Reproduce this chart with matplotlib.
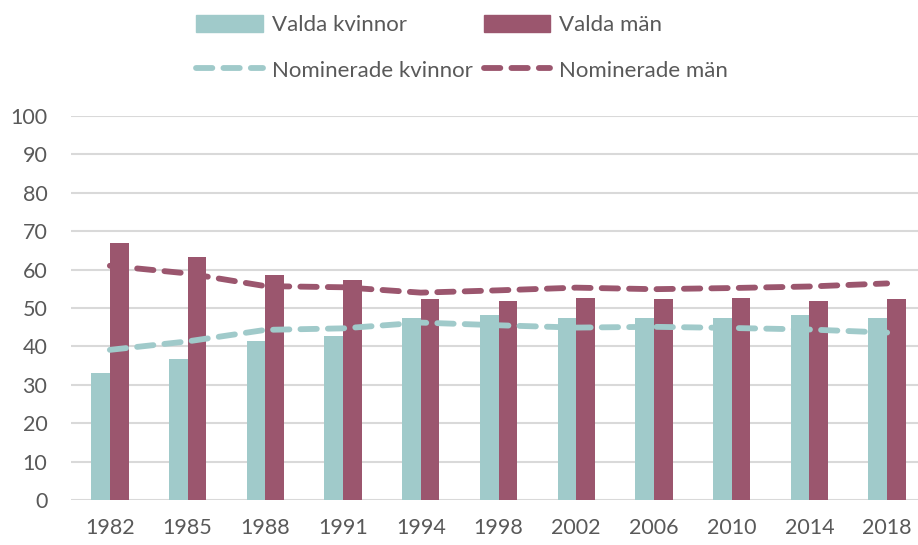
import matplotlib
matplotlib.use("Agg")
import matplotlib.pyplot as plt
import numpy as np
from matplotlib.lines import Line2D
from matplotlib.patches import Patch

years = ["1982", "1985", "1988", "1991", "1994", "1998", "2002", "2006", "2010", "2014", "2018"]
valda_kvinnor = [33.0, 36.6, 41.4, 42.6, 47.5, 48.1, 47.3, 47.5, 47.4, 48.1, 47.5]
valda_man = [67.0, 63.3, 58.5, 57.3, 52.4, 51.8, 52.6, 52.4, 52.5, 51.8, 52.4]
nom_kvinnor = [39.1, 41.3, 44.3, 44.7, 46.2, 45.5, 44.9, 45.1, 44.8, 44.4, 43.6]
nom_man = [61.0, 59.0, 55.7, 55.4, 54.0, 54.6, 55.3, 54.9, 55.2, 55.6, 56.4]
yticks = [0, 10, 20, 30, 40, 50, 60, 70, 80, 90, 100]

TEAL = "#A0CACA"
MAUVE = "#9B566E"
TXT = "#595959"
plt.rcParams['font.family'] = ['Lato', 'DejaVu Sans']

fig = plt.figure(figsize=(9.18, 5.45), dpi=100)
ax = fig.add_axes([71/918, 45/545, 855/918, 384/545])

x = np.arange(len(years))
w = 0.24
ax.bar(x - w/2, valda_kvinnor, w, color=TEAL, zorder=2)
ax.bar(x + w/2, valda_man, w, color=MAUVE, zorder=2)
ax.plot(x, nom_kvinnor, color=TEAL, lw=4.2, dashes=(2.8, 1.9), dash_capstyle='round', zorder=3)
ax.plot(x, nom_man, color=MAUVE, lw=4.2, dashes=(2.8, 1.9), dash_capstyle='round', zorder=3)

ax.set_xlim(-0.5, len(years) - 0.5)
ax.set_ylim(0, 100)
ax.set_yticks(yticks)
ax.set_xticks(x)
ax.set_xticklabels(years)
ax.grid(axis='y', color='#D9D9D9', lw=1.5, zorder=0)
ax.set_axisbelow(True)
for s in ax.spines.values():
    s.set_visible(False)
ax.tick_params(length=0, labelsize=15.5, colors=TXT)
ax.tick_params(axis='x', pad=13)
ax.tick_params(axis='y', pad=17)

handles = [Patch(color=TEAL),
           Line2D([], [], color=TEAL, lw=4.2, dashes=(2.8, 1.9), dash_capstyle='round'),
           Patch(color=MAUVE),
           Line2D([], [], color=MAUVE, lw=4.2, dashes=(2.8, 1.9), dash_capstyle='round')]
labels = ["Valda kvinnor", "Nominerade kvinnor", "Valda män", "Nominerade män"]
leg = fig.legend(handles, labels, ncol=2, loc='upper left', bbox_to_anchor=(176/918, 1.01),
                 frameon=False, handlelength=3.0, handleheight=0.8, handletextpad=0.4,
                 columnspacing=0.5, labelspacing=1.15, prop={'size': 16})
for t in leg.get_texts():
    t.set_color(TXT)

fig.savefig("out.png", dpi=100)
